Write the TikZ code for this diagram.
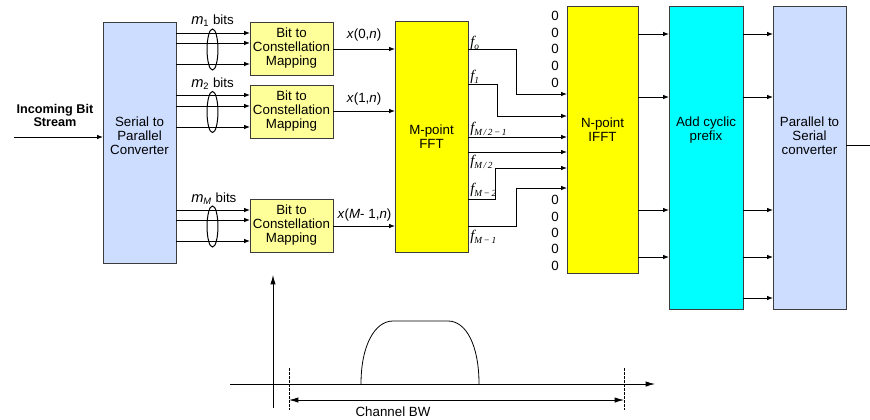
\documentclass[tikz,border=0pt]{standalone}
\usepackage{fontspec}
\setmainfont{Liberation Sans}
\newfontfamily\tms{Liberation Serif}
\usetikzlibrary{arrows.meta}
\newdimen\px \px=0.75pt
\definecolor{lblue}{RGB}{204,221,255}
\definecolor{lyel}{RGB}{255,255,153}
\definecolor{yel}{RGB}{255,255,0}
\definecolor{cyn}{RGB}{0,255,255}
\definecolor{edge}{RGB}{60,60,60}
\newcommand{\fl}[2]{{\tms\itshape\fontsize{11}{11}\selectfont f}{\tms\itshape\fontsize{7}{7}\selectfont\raisebox{-2pt}{#2}}}
\begin{document}
\begin{tikzpicture}[x=0.75pt,y=-0.75pt,
  font=\fontsize{10}{10.5}\selectfont,
  box/.style={draw=edge, line width=0.75pt, inner sep=0pt, outer sep=0pt, anchor=north west, align=center},
  txt/.style={inner sep=0pt, align=center},
  arr/.style={-{Latex[length=4.5pt,width=3.5pt]}, line width=0.75pt},
  big/.style={-{Latex[length=7pt,width=4pt]}, line width=0.6pt},
  ln/.style={line width=0.75pt}]
\useasboundingbox (0,0) rectangle (870,419);

% boxes
\node[box, fill=lblue, minimum width=73\px, minimum height=241\px] (sp) at (103,22) {};
\node[txt] (sptext) at (139.5,135.5) {Serial to\\Parallel\\Converter};
\node[box, fill=lyel, minimum width=83\px, minimum height=53\px] (b1) at (250,22) {Bit to\\Constellation\\Mapping};
\node[box, fill=lyel, minimum width=83\px, minimum height=53\px] (b2) at (250,85) {Bit to\\Constellation\\Mapping};
\node[box, fill=lyel, minimum width=83\px, minimum height=53\px] (b3) at (250,199) {Bit to\\Constellation\\Mapping};
\node[box, fill=yel, minimum width=73\px, minimum height=231\px] (fft) at (395,21) {M-point\\FFT};
\node[box, fill=yel, minimum width=71\px, minimum height=267\px] (ifft) at (567,6) {};
\node[txt] (iffttext) at (602.5,130) {N-point\\IFFT};
\node[box, fill=cyn, minimum width=74\px, minimum height=303\px] (cp) at (669,6) {};
\node[txt] (cptext) at (706,130.5) {Add cyclic\\prefix};
\node[box, fill=lblue, minimum width=73\px, minimum height=303\px] (ps) at (773,6) {};
\node[txt] (pstext) at (809.5,135.5) {Parallel to\\Serial\\converter};

% input
\node[txt, font=\fontsize{9.5}{10.2}\selectfont\bfseries] (inc) at (55,115.5) {Incoming Bit\\Stream};
\coordinate (instart) at (14,137);
\draw[arr] (instart) -- (sp.west |- 0,137);

% S/P to bit mapping
\foreach \yy in {33,43,64} \draw[arr] (sp.east |- 0,\yy) -- (b1.west |- 0,\yy);
\foreach \yy in {95,106,127} \draw[arr] (sp.east |- 0,\yy) -- (b2.west |- 0,\yy);
\foreach \yy in {210,220,241} \draw[arr] (sp.east |- 0,\yy) -- (b3.west |- 0,\yy);
\draw[ln] (212.5,49.5) ellipse [x radius=4.1pt, y radius=15.4pt];
\draw[ln] (212.5,112) ellipse [x radius=4.1pt, y radius=15.4pt];
\draw[ln] (212.5,226.5) ellipse [x radius=4.1pt, y radius=15.4pt];
\node[txt, anchor=base west] (m1) at (191,24) {\textit{\fontsize{11}{11}\selectfont m}\textsubscript{1} bits};
\node[txt, anchor=base west] (m2) at (191,87) {\textit{\fontsize{11}{11}\selectfont m}\textsubscript{2} bits};
\node[txt, anchor=base west] (mM) at (191,202) {\textit{\fontsize{11}{11}\selectfont m}\textsubscript{\textit{M}} bits};

% mapping to FFT
\draw[arr] (b1.east |- 0,49) -- (fft.west |- 0,49);
\draw[arr] (b2.east |- 0,111) -- (fft.west |- 0,111);
\draw[arr] (b3.east |- 0,226) -- (fft.west |- 0,226);
\node[txt] (x0) at (364,35) {\textit{x}(0,\textit{n})};
\node[txt] (x1) at (364,99) {\textit{x}(1,\textit{n})};
\node[txt] (xM) at (364.5,215) {\textit{x}(\textit{M}- 1,\textit{n})};

% FFT to IFFT
\draw[arr] (fft.east |- 0,49) -- (516,49) -- (516,94) -- (ifft.west |- 0,94);
\draw[arr] (fft.east |- 0,84) -- (497,84) -- (497,116) -- (ifft.west |- 0,116);
\draw[arr] (fft.east |- 0,137) -- (ifft.west |- 0,137);
\draw[arr] (fft.east |- 0,152) -- (ifft.west |- 0,152);
\draw[arr] (fft.east |- 0,199) -- (495,199) -- (495,168) -- (ifft.west |- 0,168);
\draw[arr] (fft.east |- 0,226) -- (516,226) -- (516,188) -- (ifft.west |- 0,188);
\node[txt, anchor=west] (f0) at (470,43) {\fl{}{o}};
\node[txt, anchor=west] (f1) at (470,77) {\fl{}{1}};
\node[txt, anchor=west] (f2) at (470,129) {\fl{}{M\,/\,2\,−\,1}};
\node[txt, anchor=west] (f3) at (470,162) {\fl{}{M\,/\,2}};
\node[txt, anchor=west] (f4) at (470,190) {\fl{}{M\,−\,2}};
\node[txt, anchor=west] (f5) at (470,237) {\fl{}{M\,−\,1}};

% zeros
\foreach \yy [count=\i] in {16,33,49,66,83} \node[txt] (zt\i) at (555,\yy) {0};
\foreach \yy [count=\i] in {200,217,233,249,266} \node[txt] (zb\i) at (555,\yy) {0};

% IFFT to CP, CP to PS
\foreach \yy in {34,97,210,257} \draw[arr] (ifft.east |- 0,\yy) -- (cp.west |- 0,\yy);
\foreach \yy in {34,97,210,257,298} \draw[arr] (cp.east |- 0,\yy) -- (ps.west |- 0,\yy);
\coordinate (outend) at (870,145);
\draw[ln] (ps.east |- outend) -- (outend);

% spectrum
\coordinate (vb) at (273,408);
\coordinate (vt) at (273,275);
\coordinate (hl) at (230,384);
\coordinate (hr) at (655,384);
\draw[big] (vb) -- (vt);
\draw[big] (hl) -- (hr);
\draw[dashed, line width=0.5pt, dash pattern=on 2pt off 1pt] (289,368) -- (289,410);
\draw[dashed, line width=0.5pt, dash pattern=on 2pt off 1pt] (624,368) -- (624,410);
\draw[{Latex[length=7pt,width=4pt]}-{Latex[length=7pt,width=4pt]}, line width=0.6pt] (289,400) -- (624,400);
\draw[line width=0.6pt] (361,384) .. controls (361,345) and (375,321) .. (393,321) -- (448,321) .. controls (466,321) and (479,345) .. (479,384);
\node[txt] (bw) at (393,412) {Channel BW};
\end{tikzpicture}
\end{document}
